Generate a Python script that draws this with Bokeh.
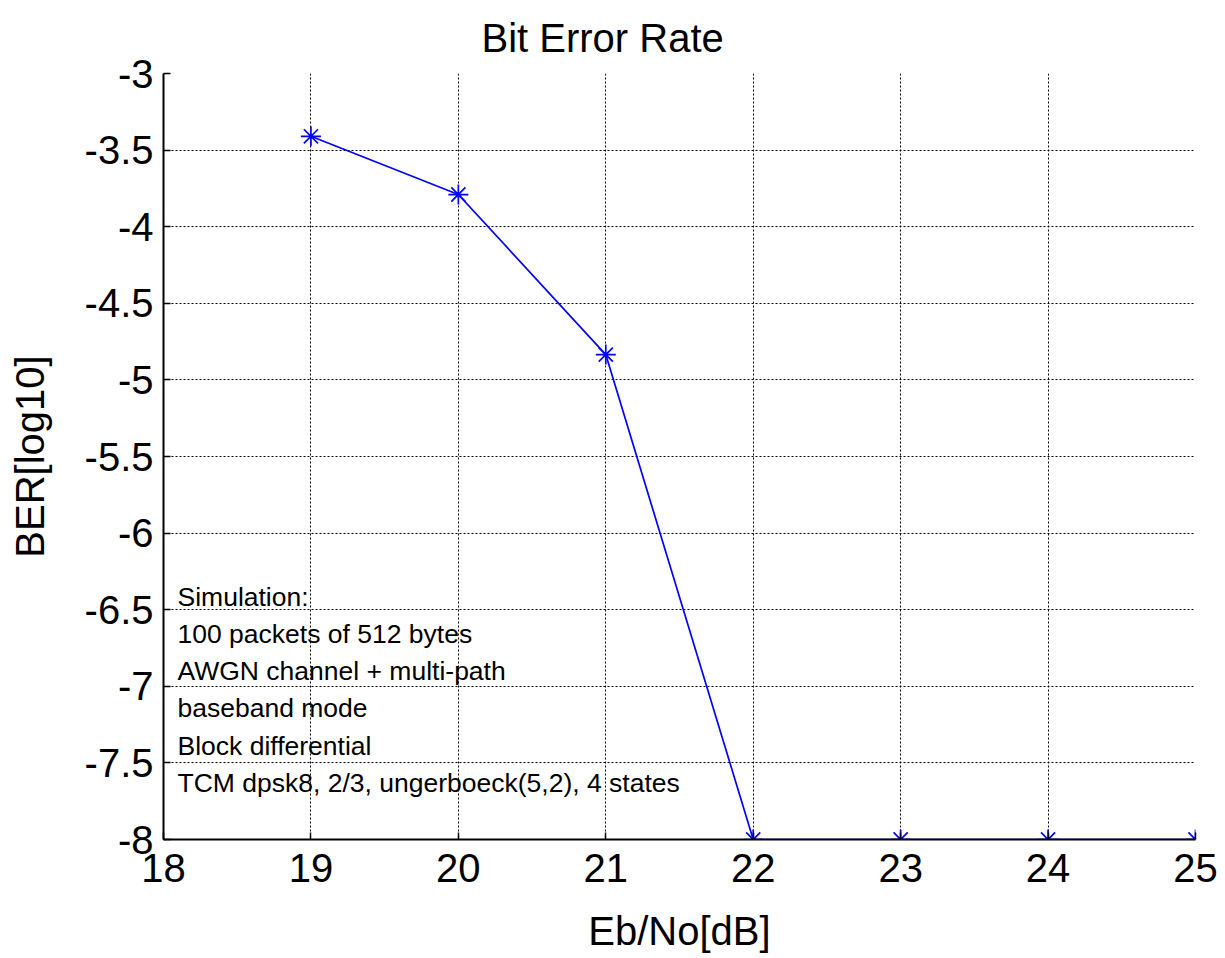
from bokeh.plotting import figure
from bokeh.models import FixedTicker, ColumnDataSource, Range1d
from bokeh.core.properties import value
from bokeh.embed import file_html
from bokeh.resources import INLINE

# Data
ebno_db = [19, 20, 21, 22, 23, 24, 25]
ber_log10 = [-3.41, -3.79, -4.835, -8.0, -8.0, -8.0, -8.0]

x_ticks = [18, 19, 20, 21, 22, 23, 24, 25]
y_ticks = [-8, -7.5, -7, -6.5, -6, -5.5, -5, -4.5, -4, -3.5, -3]
y_tick_labels = ["-8", "-7.5", "-7", "-6.5", "-6", "-5.5", "-5", "-4.5", "-4", "-3.5", "-3"]

title_text = "Bit Error Rate"
x_label = "Eb/No[dB]"
y_label = "BER[log10]"

notes = [
    "Simulation:",
    "100 packets of 512 bytes",
    "AWGN channel + multi-path",
    "baseband mode",
    "Block differential",
    "TCM dpsk8, 2/3, ungerboeck(5,2), 4 states",
]
note_y = [-6.42, -6.66, -6.90, -7.14, -7.39, -7.63]
note_x = 18.095

FONT = "Liberation Sans"

p = figure(width=1225, height=958, output_backend="svg", toolbar_location=None,
           x_range=Range1d(18, 25), y_range=Range1d(-8, -3),
           min_border_left=163, min_border_right=30, min_border_top=73, min_border_bottom=119,
           title=title_text)

p.title.text_font = FONT
p.title.text_font_size = "40px"
p.title.text_font_style = "normal"
p.title.text_color = "black"
p.title.align = "left"
p.title.offset = 318
p.title.standoff = 27

p.outline_line_color = None
p.background_fill_color = "white"
p.border_fill_color = "white"

for ax in (p.xaxis[0], p.yaxis[0]):
    ax.major_label_text_font = FONT
    ax.major_label_text_font_size = "40px"
    ax.major_label_text_color = "black"
    ax.axis_label_text_font = FONT
    ax.axis_label_text_font_size = "40px"
    ax.axis_label_text_font_style = "normal"
    ax.axis_label_text_color = "black"
    ax.axis_line_color = "black"
    ax.axis_line_width = 2
    ax.major_tick_in = 7
    ax.major_tick_out = 0
    ax.major_tick_line_color = "black"
    ax.major_tick_line_width = 1.5
    ax.minor_tick_line_color = None

p.xaxis.ticker = FixedTicker(ticks=x_ticks)
p.yaxis.ticker = FixedTicker(ticks=y_ticks)
p.yaxis.major_label_overrides = {t: l for t, l in zip(y_ticks, y_tick_labels)}
p.xaxis.axis_label = x_label
p.yaxis.axis_label = y_label
p.xaxis.major_label_standoff = 14
p.yaxis.major_label_standoff = 10
p.xaxis.axis_label_standoff = 24
p.yaxis.axis_label_standoff = 30

for g in (p.xgrid[0], p.ygrid[0]):
    g.grid_line_color = "black"
    g.grid_line_dash = "2 2"
    g.grid_line_width = 1

src = ColumnDataSource(dict(x=ebno_db, y=ber_log10))
p.line("x", "y", source=src, line_color="#0000ff", line_width=1.7)
p.scatter("x", "y", source=src, marker="asterisk", size=20, line_color="#0000ff", line_width=1.7)

nsrc = ColumnDataSource(dict(x=[note_x] * len(notes), y=note_y, t=notes))
p.text("x", "y", text="t", source=nsrc, text_font=value(FONT), text_font_size="26.5px",
       text_baseline="middle", text_align="left", text_color="black")

open("out.html", "w").write(file_html(p, INLINE))
